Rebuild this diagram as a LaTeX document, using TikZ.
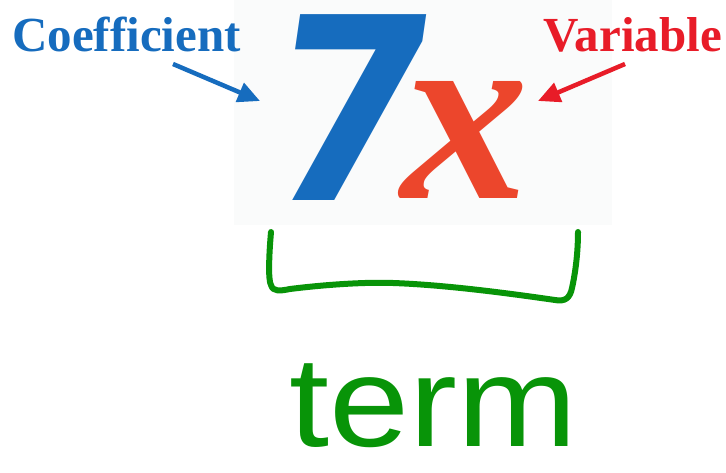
\documentclass[tikz,border=0pt]{standalone}
\usepackage{fontspec}
\setmainfont{Liberation Serif}
\newfontfamily\handfont{Liberation Sans}
\newfontfamily\sevenfont{DejaVu Sans}
\usetikzlibrary{arrows.meta}
\definecolor{coefblue}{RGB}{22,108,190}
\definecolor{varred}{RGB}{232,28,40}
\definecolor{xred}{RGB}{236,70,44}
\definecolor{penGreen}{RGB}{8,148,8}
\definecolor{boxbg}{RGB}{250,251,251}
\tikzset{
  lbl/.style={inner sep=0pt, font=\fontsize{49}{49}\selectfont\bfseries},
  callout/.style={line width=4.5pt, -{Triangle[length=22pt,width=20pt]}},
  pen/.style={draw=penGreen, line width=6pt, line cap=round, line join=round},
}
\begin{document}
\begin{tikzpicture}[x=1pt,y=-1pt]
\useasboundingbox (0,0) rectangle (726,473);
\fill[white] (0,0) rectangle (726,473);
\fill[boxbg] (234,0) rectangle (612,225);
% 7x
\node[inner sep=0pt, text=coefblue, xscale=0.9, xslant=0.16, font=\fontsize{255}{255}\sevenfont\bfseries] (seven) at (352,108) {7};
\node[inner sep=0pt, text=xred, font=\fontsize{255}{255}\selectfont\bfseries\itshape] (ex) at (465,140) {x};
% labels
\node[lbl, text=coefblue, anchor=base west] (coef) at (12,52) {Coefficient};
\node[lbl, text=varred, anchor=base east] (var) at (722,52) {Variable};
\coordinate (ctail) at (173,64);
\coordinate (ctip) at (260,101);
\coordinate (vtail) at (625,64);
\coordinate (vtip) at (538,101);
\draw[callout, draw=coefblue, fill=coefblue] (ctail) -- (ctip);
\draw[callout, draw=varred, fill=varred] (vtail) -- (vtip);
% bracket
\coordinate (bl) at (271,232);
\coordinate (br) at (578,232);
\draw[pen] (bl) .. controls (269,255) and (268,280) .. (271,285)
  .. controls (273,292) and (280,291) .. (290,289)
  .. controls (330,284) and (370,282) .. (393,283)
  .. controls (450,285) and (520,295) .. (555,300)
  .. controls (565,302) and (570,298) .. (572,288)
  .. controls (576,270) and (578,250) .. (br);
% term
\node[inner sep=0pt, text=penGreen, anchor=base, xscale=1.18, yscale=1.05, font=\fontsize{122}{122}\handfont] (term) at (433,446) {term};
\end{tikzpicture}
\end{document}
